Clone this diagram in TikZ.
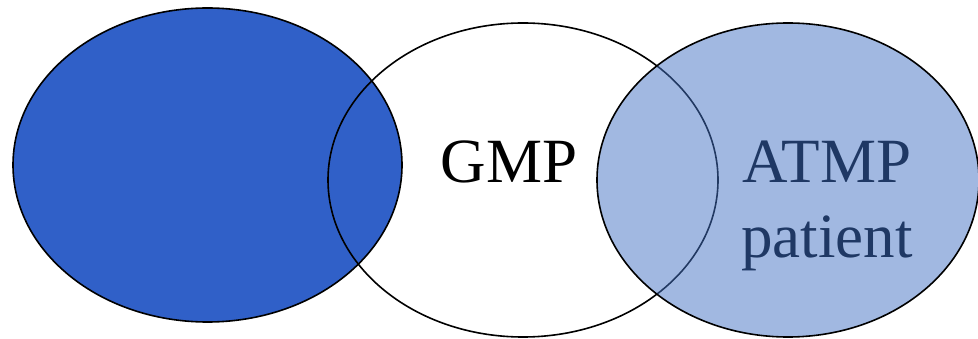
\documentclass[tikz,border=0pt]{standalone}
\usepackage{fontspec}
\setmainfont{Liberation Serif}
\usepackage{tikz}

\definecolor{darkblob}{RGB}{48,96,200}
\definecolor{paleblob}{RGB}{68,114,196}
\definecolor{navytext}{RGB}{31,56,100}

\begin{document}
\begin{tikzpicture}[x=1pt,y=-1pt]
      \useasboundingbox (0,0) rectangle (978,339);
      \draw [line width=1.6pt,fill=darkblob] (207.5,165) ellipse [x radius=194.5,y radius=157];
      \draw [line width=1.6pt] (523,180) ellipse [x radius=195,y radius=157];
      \draw [line width=1.6pt,fill=paleblob,fill opacity=.5] (788,180) ellipse [x radius=191,y radius=157];
      \node (gmp) [anchor=base,font=\fontsize{63}{75}\selectfont] at (509,183) {GMP};
      \node (atmp) [anchor=base,align=center,text=navytext,font=\fontsize{63}{75}\selectfont] at (827,258) {ATMP\\patient};
    \end{tikzpicture}
\end{document}
